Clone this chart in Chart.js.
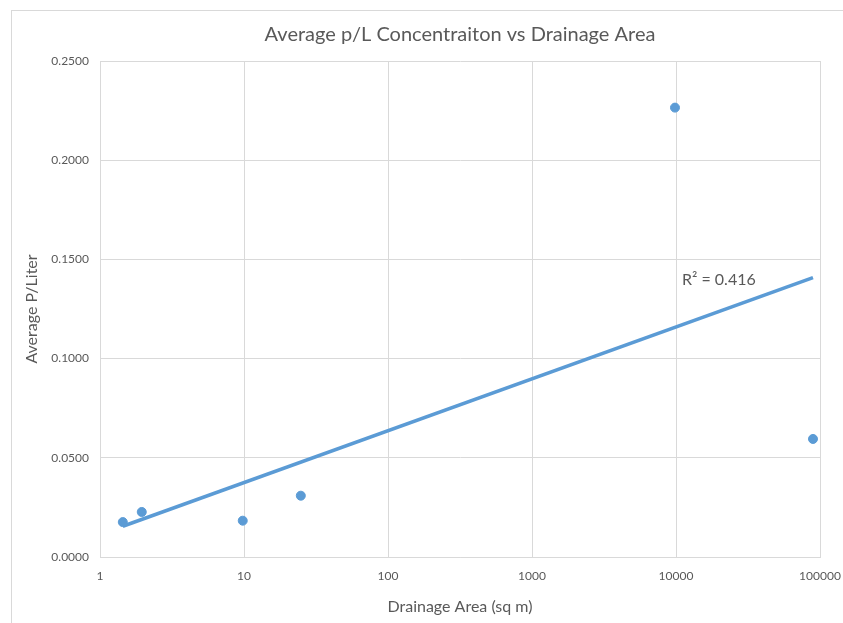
<!DOCTYPE html>
<html>
<head>
<meta charset="utf-8">
<script src="https://cdn.jsdelivr.net/npm/chart.js@4"></script>
<style>
	html, body { margin: 0; padding: 0; background: #fff; }
	#wrap { position: relative; width: 843px; height: 623px; overflow: hidden; }
	#frame { position: absolute; left: 11px; top: 10px; width: 900px; height: 700px;
		border-left: 1px solid #d9d9d9; border-top: 1px solid #d9d9d9; }
	canvas { position: absolute; left: 0; top: 0; }
</style>
</head>
<body>
<div id="wrap">
	<div id="frame"></div>
	<canvas id="chart" width="843" height="623"></canvas>
</div>
<script>
(function () {
	'use strict';

	// drainage area (sq m) and average p/L for each site
	const areas = [1.44, 1.95, 9.8, 24.8, 9840, 89400];
	const concentrations = [0.0176, 0.0227, 0.0183, 0.0309, 0.2265, 0.0595];

	// log trendline ends, as shown
	const trendAreas = [1.44, 89400];
	const trendValues = [0.0155, 0.1408];
	const trendLabel = 'R\u00b2 = 0.416';

	const xTicks = [1, 10, 100, 1000, 10000, 100000];
	const yTicks = [0, 0.05, 0.1, 0.15, 0.2, 0.25];

	const blue = '#5b9bd5';
	const grey = '#595959';
	const gridColor = '#d9d9d9';
	const fontFamily = 'Lato, "Open Sans", sans-serif';

	const r2Label = {
		id: 'r2Label',
		afterDatasetsDraw(chart) {
			const x = chart.scales.x.getPixelForValue(trendAreas[1]);
			const y = chart.scales.y.getPixelForValue(trendValues[1]);
			const c = chart.ctx;
			c.save();
			c.font = '16px ' + fontFamily;
			c.fillStyle = grey;
			c.textAlign = 'left';
			c.textBaseline = 'middle';
			c.fillText(trendLabel, x - 131, y + 2);
			c.restore();
		}
	};

	new Chart(document.getElementById('chart'), {
		type: 'scatter',
		data: {
			datasets: [{
				label: 'Average P/Liter',
				data: areas.map((a, i) => ({x: a, y: concentrations[i]})),
				backgroundColor: blue,
				borderColor: blue,
				pointRadius: 4.5,
				pointHoverRadius: 4.5
			}, {
				label: 'Trend',
				type: 'line',
				data: trendAreas.map((a, i) => ({x: a, y: trendValues[i]})),
				borderColor: blue,
				borderWidth: 3.5,
				pointRadius: 0,
				fill: false
			}]
		},
		options: {
			responsive: false,
			animation: false,
			layout: {
				padding: {left: 0, right: 23, top: 0, bottom: 0}
			},
			plugins: {
				legend: false,
				tooltip: {enabled: false},
				title: {
					display: true,
					fullSize: false,
					text: 'Average p/L Concentraiton vs Drainage Area',
					color: grey,
					font: {family: fontFamily, size: 20, weight: 'normal'},
					padding: {top: 23, bottom: 14}
				}
			},
			scales: {
				x: {
					type: 'logarithmic',
					min: 1,
					max: 100000,
					afterBuildTicks(scale) {
						scale.ticks = xTicks.map(v => ({value: v}));
					},
					afterFit(scale) {
						scale.height = 66;
						scale.paddingLeft = 0;
						scale.paddingRight = 0;
					},
					ticks: {
						color: grey,
						font: {family: fontFamily, size: 12},
						padding: 12,
						maxRotation: 0,
						callback: v => String(v)
					},
					grid: {color: gridColor, drawTicks: false},
					border: {color: gridColor},
					title: {
						display: true,
						text: 'Drainage Area (sq m)',
						color: grey,
						font: {family: fontFamily, size: 16},
						padding: {top: 0, bottom: 7}
					}
				},
				y: {
					min: 0,
					max: 0.25,
					afterBuildTicks(scale) {
						scale.ticks = yTicks.map(v => ({value: v}));
					},
					afterFit(scale) {
						scale.width = 100;
					},
					ticks: {
						color: grey,
						font: {family: fontFamily, size: 12},
						padding: 11,
						callback: v => v.toFixed(4)
					},
					grid: {color: gridColor, drawTicks: false},
					border: {color: gridColor},
					title: {
						display: true,
						text: 'Average P/Liter',
						color: grey,
						font: {family: fontFamily, size: 16},
						padding: {top: 22, bottom: 0}
					}
				}
			}
		},
		plugins: [r2Label]
	});
})();
</script>
</body>
</html>
